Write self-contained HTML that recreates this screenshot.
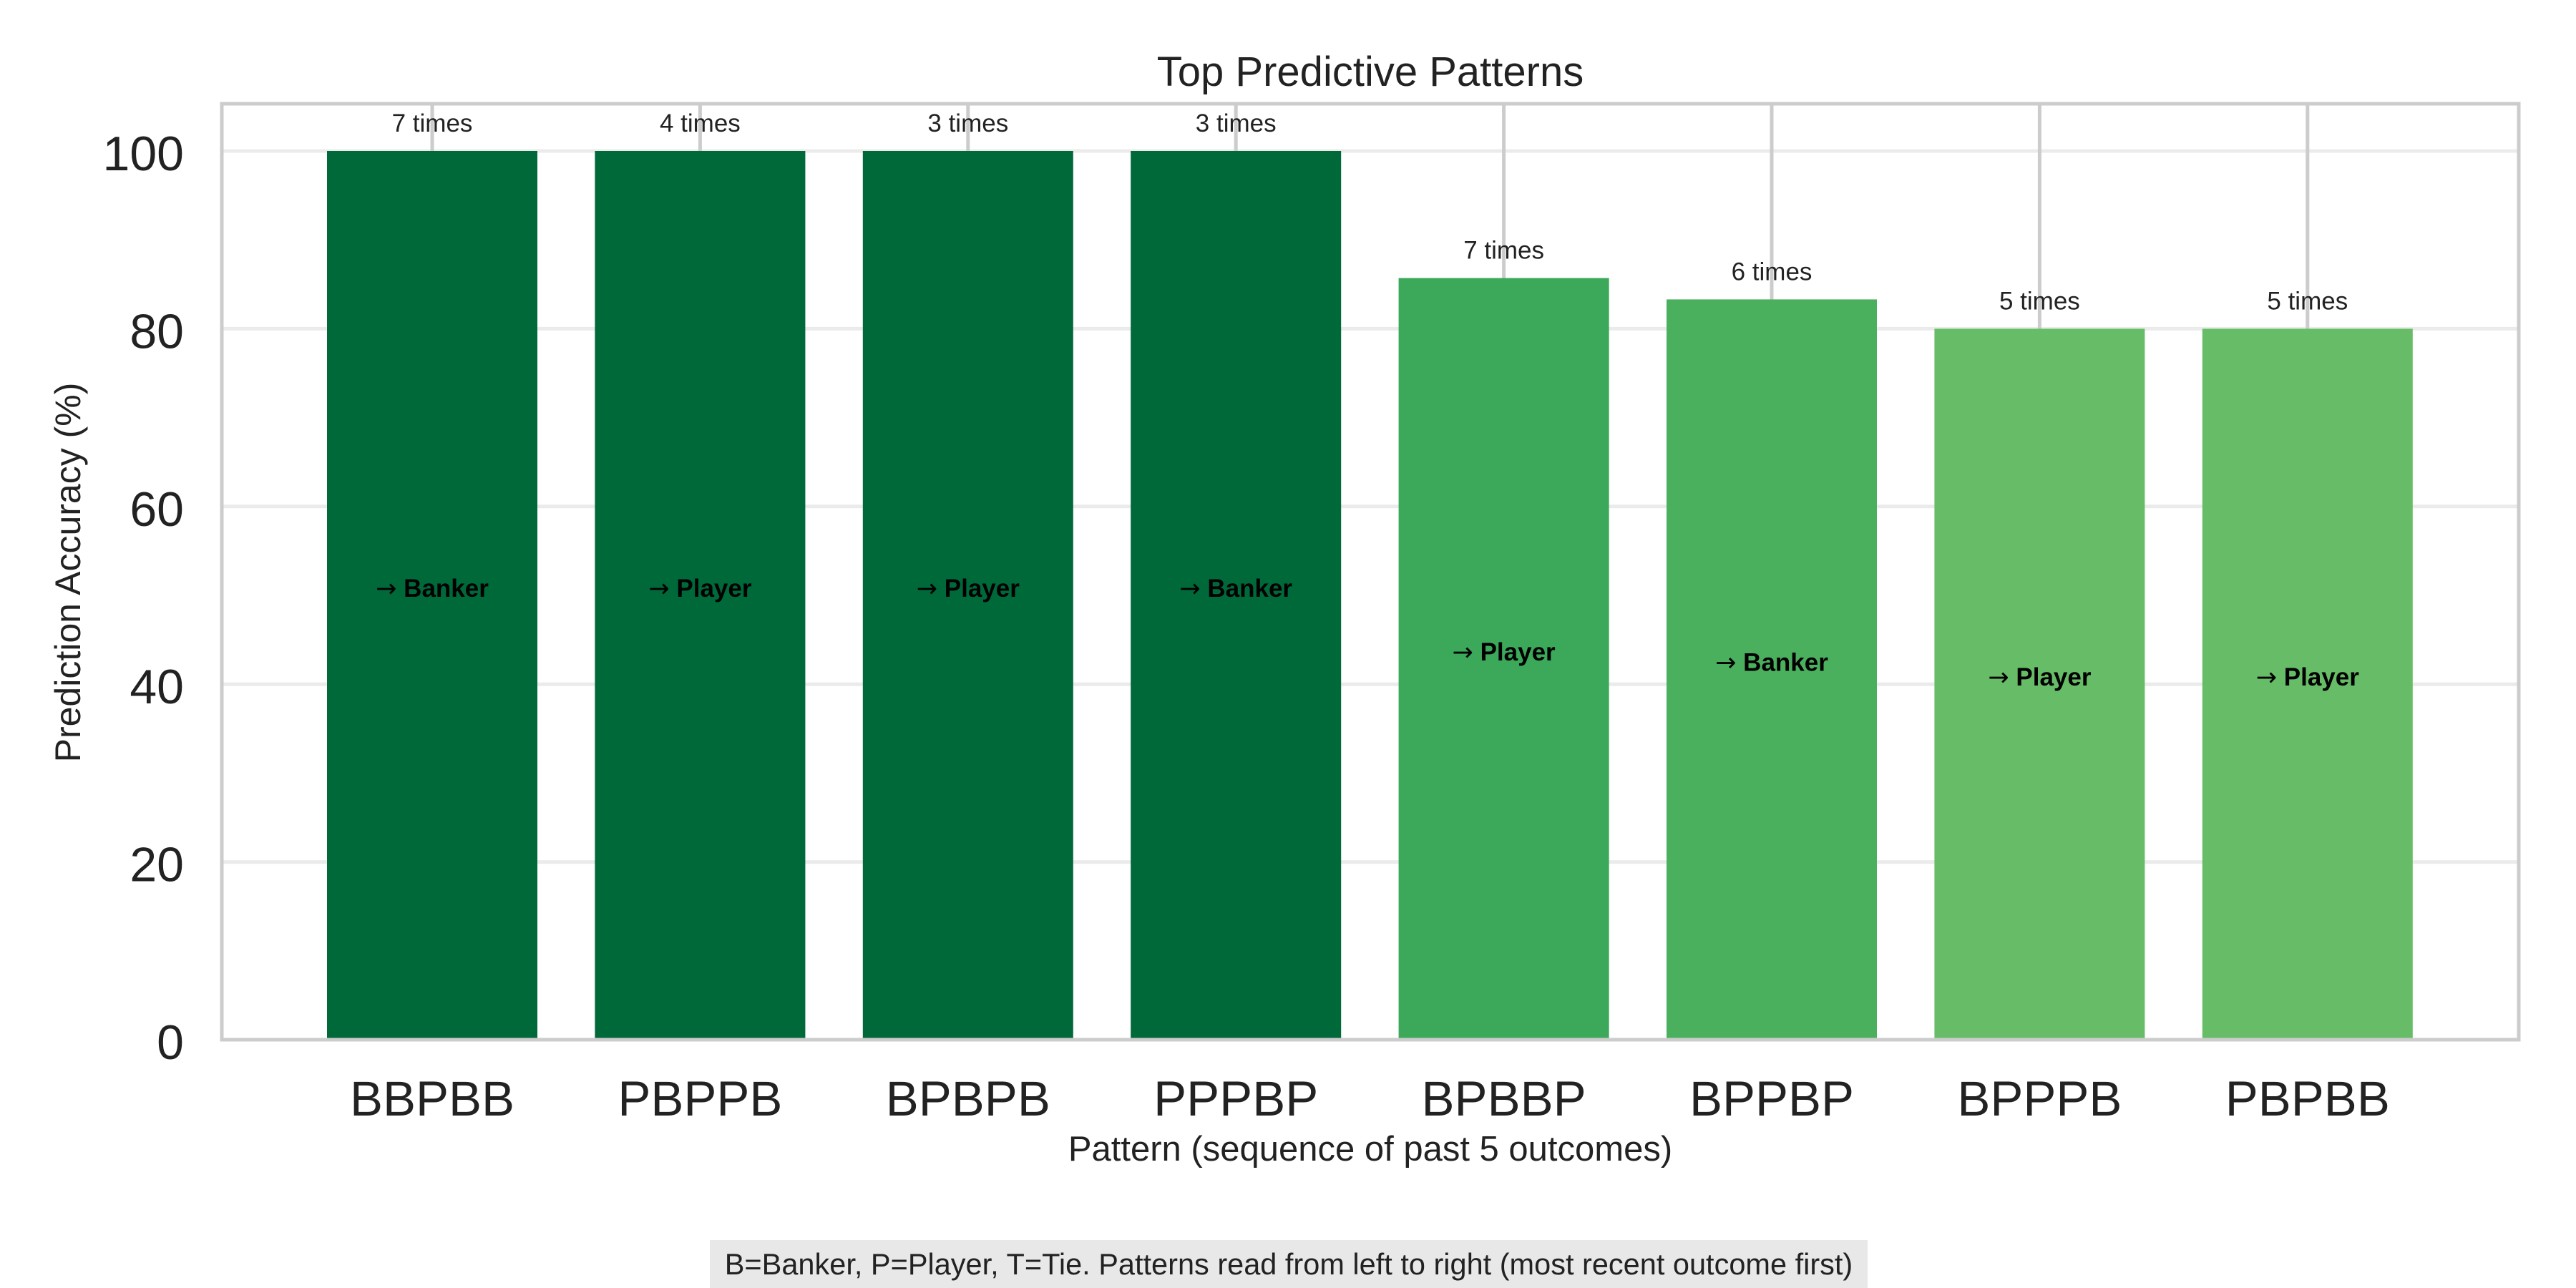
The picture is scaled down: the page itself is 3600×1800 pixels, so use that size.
<!DOCTYPE html>
<html><head><meta charset="utf-8"><style>
html,body{margin:0;padding:0;background:#fff;}
svg{display:block;font-family:"Liberation Sans",Arial,sans-serif;}
</style></head><body>
<svg id="chart" width="3600" height="1800" viewBox="0 0 3600 1800" xmlns="http://www.w3.org/2000/svg">
<rect x="0" y="0" width="3600" height="1800" fill="#fff"/>
<g id="grid"></g>
<g id="bars"></g>
<rect x="310" y="145" width="3210" height="1308" fill="none" stroke="#cccccc" stroke-width="5"/>
<g id="labels"></g>
<text x="1915" y="120" text-anchor="middle" font-size="58" fill="#222">Top Predictive Patterns</text>
<text x="1915" y="1622" text-anchor="middle" font-size="49" fill="#222">Pattern (sequence of past 5 outcomes)</text>
<text transform="translate(112,800) rotate(-90)" text-anchor="middle" font-size="50" fill="#222">Prediction Accuracy (%)</text>
<rect x="992" y="1733" width="1618" height="67" fill="#e8e8e8"/>
<text x="1801" y="1781" text-anchor="middle" font-size="41.5" fill="#222">B=Banker, P=Player, T=Tie. Patterns read from left to right (most recent outcome first)</text>
</svg>
<script>
const categories = ["BBPBB","PBPPB","BPBPB","PPPBP","BPBBP","BPPBP","BPPPB","PBPBB"];
const accuracy = [100,100,100,100,85.7,83.3,80,80];
const counts = [7,4,3,3,7,6,5,5];
const predictions = ["Banker","Player","Player","Banker","Player","Banker","Player","Player"];
const yTicks = [0,20,40,60,80,100];

(function(){
const NS="http://www.w3.org/2000/svg";
const plotLeft=310,plotRight=3520,plotTop=145,plotBottom=1453,y0=1453,y100=211;
const step=374.4, firstX=604;
const xScale=i=>firstX+step*i;
const yScale=v=>y0-(y0-y100)*v/100;
const barW=294;
function color(v){ if(v>=99) return "#00693a"; if(v>=85) return "#3ca85a"; if(v>=82) return "#4bb05e"; return "#67bd67"; }
function mk(tag,attrs,parent,text){const e=document.createElementNS(NS,tag);for(const k in attrs)e.setAttribute(k,attrs[k]);if(text!==undefined)e.textContent=text;parent.appendChild(e);return e;}
const grid=document.getElementById('grid'),bars=document.getElementById('bars'),labels=document.getElementById('labels');
yTicks.forEach(t=>{
  const y=yScale(t);
  const l=mk('line',{x1:plotLeft,x2:plotRight,y1:y,y2:y,stroke:'#ebebeb','stroke-width':5},grid);
  
  
  const tx=mk('text',{x:257,y:y+27,'text-anchor':'end','font-size':68,fill:'#222'},labels,String(t));
  
  
});
categories.forEach((c,i)=>{
  const x=xScale(i);
  const g=mk('line',{x1:x,x2:x,y1:plotTop,y2:plotBottom,stroke:'#cccccc','stroke-width':5},grid);
  
  
  const yt=yScale(accuracy[i]);
  const b=mk('rect',{x:x-barW/2,y:yt,width:barW,height:y0-yt,fill:color(accuracy[i])},bars);
  
  
  const cl=mk('text',{x:x,y:yt-27,'text-anchor':'middle','font-size':35,fill:'#222'},labels,counts[i]+' times');
  
  
  const pl=mk('text',{x:x,y:(yt+y0)/2+2,'text-anchor':'middle','font-size':35,'font-weight':'bold',fill:'#000'},labels);
  
  
  mk('tspan',{'font-family':'DejaVu Sans, sans-serif','font-weight':'normal'},pl,'\u2192');
  mk('tspan',{},pl,' '+predictions[i]);
  const xl=mk('text',{x:x,y:1559,'text-anchor':'middle','font-size':69,fill:'#222'},labels,c);
  
  
});
})();
</script>
</body></html>
